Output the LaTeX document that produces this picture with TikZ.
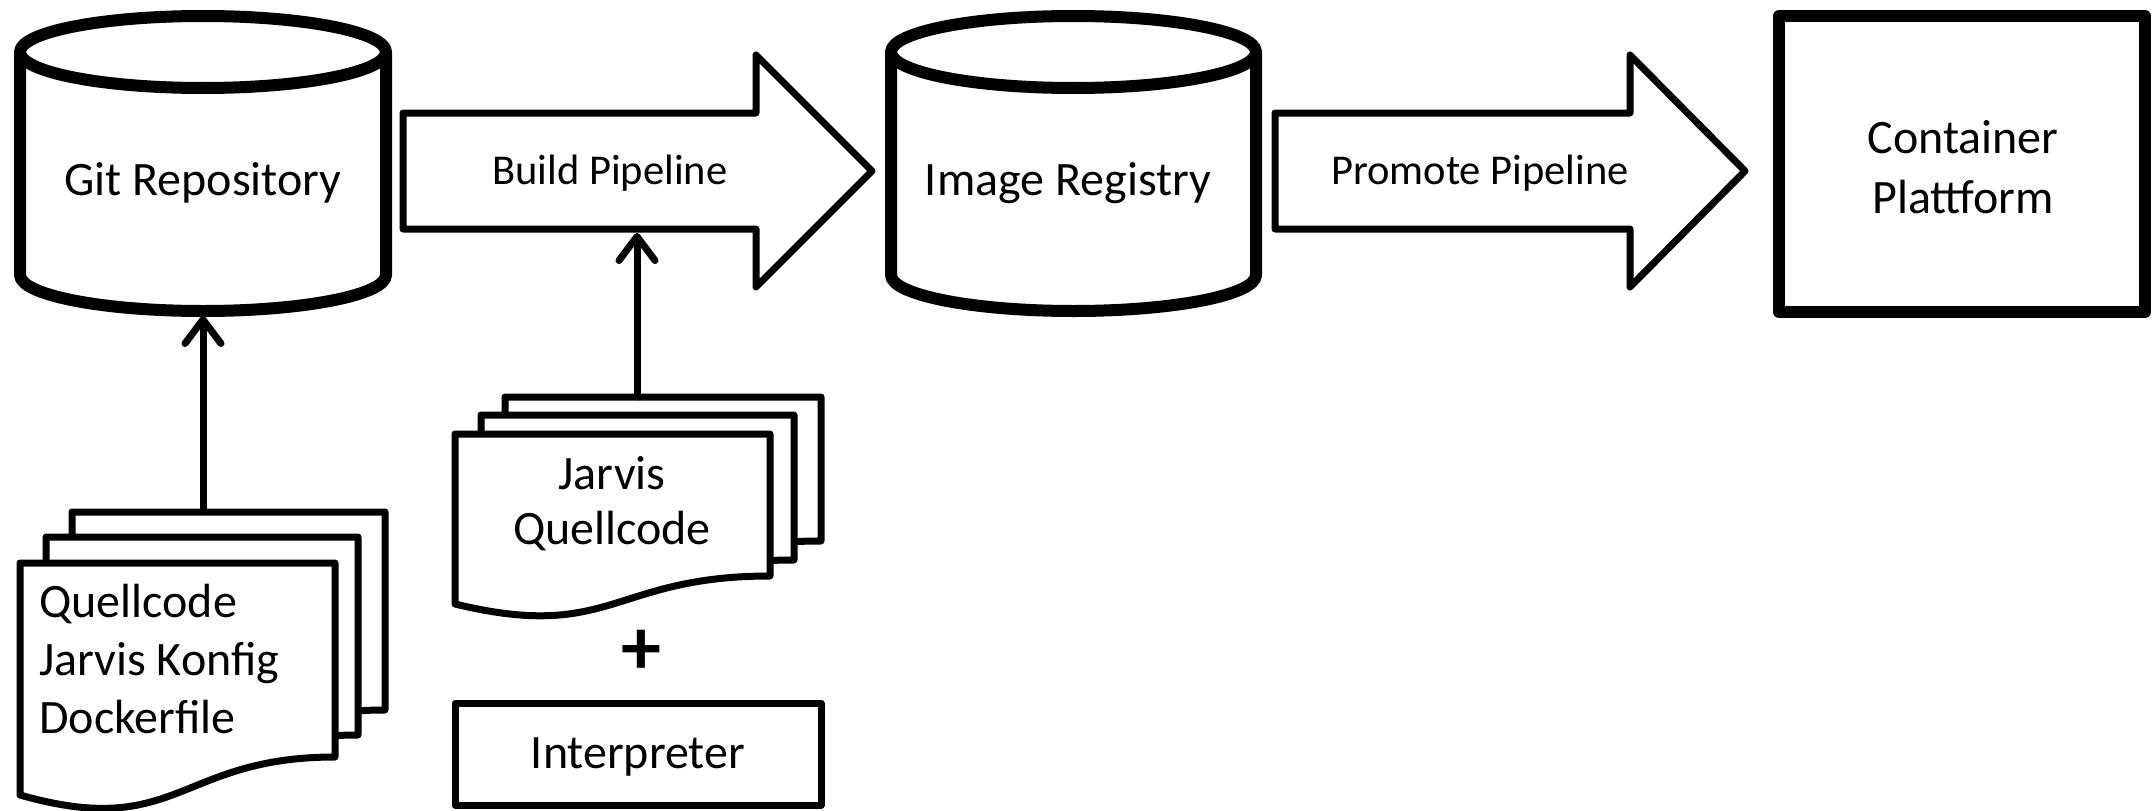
\documentclass[tikz,border=0pt]{standalone}
\usepackage{fontspec}
\setmainfont{Carlito}
\usetikzlibrary{arrows.meta}
\tikzset{
  heavy/.style={line width=12pt, line join=round, fill=white},
  medium/.style={line width=7pt, line join=round, fill=white},
  conn/.style={line width=7pt, line cap=round, -{Straight Barb[length=24pt,width=36pt,line cap=round,line join=round]}},
  bigtxt/.style={font=\fontsize{48}{58}\selectfont, inner sep=0pt},
  pipetxt/.style={font=\fontsize{42.5}{50}\selectfont, inner sep=0pt}
}
\begin{document}
\begin{tikzpicture}[x=1pt,y=-1pt]
\useasboundingbox (0,0) rectangle (2155,811);
% Git repository cylinder
\draw[heavy] (20,52) -- (20,275) arc[start angle=180,end angle=360,x radius=183pt,y radius=36pt] -- (386,52);
\draw[heavy] (203,52) ellipse[x radius=183pt,y radius=36pt];
\node[bigtxt] (git) at (203,183) {Git Repository};
\coordinate (gitbot) at (203,316);
% Image registry cylinder
\draw[heavy] (891,52) -- (891,275) arc[start angle=180,end angle=360,x radius=182.5pt,y radius=36pt] -- (1256,52);
\draw[heavy] (1073.5,52) ellipse[x radius=182.5pt,y radius=36pt];
\node[bigtxt] (reg) at (1068,183) {Image Registry};
% Build pipeline arrow
\draw[medium] (403,113) -- (756,113) -- (756,55) -- (872,171) -- (756,287) -- (756,229) -- (403,229) -- cycle;
\node[pipetxt] (build) at (610,173) {Build Pipeline};
\coordinate (buildbot) at (637,233);
% Promote pipeline arrow
\draw[medium] (1275,113) -- (1630,113) -- (1630,55) -- (1745,171) -- (1630,287) -- (1630,229) -- (1275,229) -- cycle;
\node[pipetxt] (promote) at (1480,173) {Promote Pipeline};
% Container platform
\draw[heavy] (1779,16) rectangle (2145,312);
\node[bigtxt, align=center, font=\fontsize{48}{60}\selectfont] (plat) at (1963,167) {Container\\Plattform};
% Document stack A
\draw[medium] (72,512) -- (385,512) -- (385,710) .. controls (228,710) and (228,790) .. (72,750) -- cycle;
\draw[medium] (46,537) -- (358,537) -- (358,735) .. controls (202,735) and (202,815) .. (46,775) -- cycle;
\draw[medium] (20,563) -- (335,563) -- (335,757) .. controls (178,757) and (178,840) .. (20,795) -- cycle;
\coordinate (stackAtop) at (203,512);
\node[bigtxt, align=left, anchor=west] (srcA) at (39,659) {Quellcode\\Jarvis Konfig\\Dockerfile};
% Document stack B
\draw[medium] (505,397) -- (821,397) -- (821,541) .. controls (663,541) and (663,605) .. (505,570) -- cycle;
\draw[medium] (481,415) -- (794,415) -- (794,560) .. controls (637,560) and (637,624) .. (481,589) -- cycle;
\draw[medium] (455,434) -- (770,434) -- (770,576) .. controls (612,576) and (612,642) .. (455,604) -- cycle;
\coordinate (stackBtop) at (637,397);
\node[bigtxt, align=center, font=\fontsize{48}{55}\selectfont] (srcB) at (612,504) {Jarvis\\Quellcode};
% plus and interpreter
\node[inner sep=0pt, font=\fontsize{80}{80}\selectfont\bfseries] (plus) at (641,652) {+};
\draw[medium] (455,703) rectangle (821,805);
\node[bigtxt] (interp) at (638,757) {Interpreter};
% connectors
\draw[conn] (stackAtop) -- (gitbot);
\draw[conn] (stackBtop) -- (buildbot);
\end{tikzpicture}
\end{document}
